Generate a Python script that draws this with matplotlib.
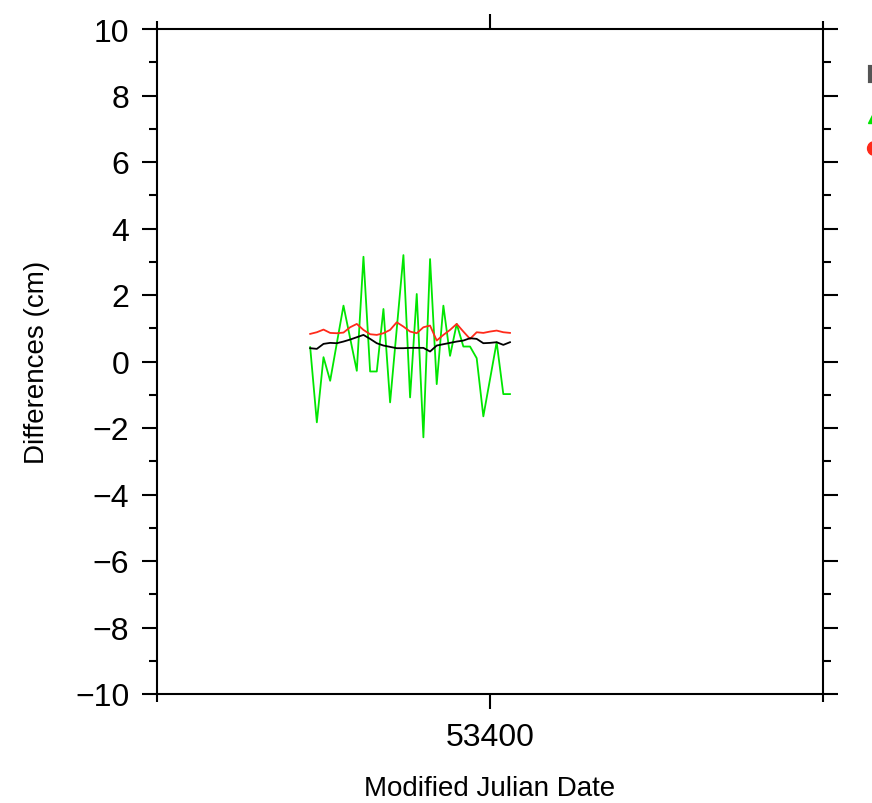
import matplotlib.pyplot as plt
from matplotlib.ticker import FixedLocator, MultipleLocator
from matplotlib.lines import Line2D

plt.rcParams['font.family'] = ['Liberation Sans', 'DejaVu Sans']

# daily differences around MJD 53400
green_mjd = [53373, 53374, 53375, 53376, 53378, 53380, 53381, 53382, 53383,
             53384, 53385, 53387, 53388, 53389, 53390, 53391, 53392, 53393,
             53394, 53395, 53396, 53397, 53398, 53399, 53401, 53402, 53403]
green_diff = [0.43, -1.83, 0.13, -0.58, 1.68, -0.28, 3.15, -0.30, -0.30,
              1.58, -1.23, 3.20, -1.08, 2.03, -2.28, 3.08, -0.68, 1.68,
              0.17, 1.13, 0.45, 0.45, 0.10, -1.65, 0.58, -0.98, -0.98]

red_mjd = list(range(53373, 53404))
red_diff = [0.83, 0.88, 0.96, 0.86, 0.85, 0.87, 1.03, 1.13, 0.95, 0.82,
            0.80, 0.85, 0.95, 1.18, 1.05, 0.90, 0.85, 1.03, 1.08, 0.63,
            0.80, 0.95, 1.13, 0.90, 0.68, 0.88, 0.86, 0.90, 0.93, 0.88,
            0.86]

black_mjd = red_mjd
black_diff = [0.40, 0.38, 0.53, 0.56, 0.55, 0.60, 0.66, 0.73, 0.80, 0.68,
              0.55, 0.48, 0.44, 0.40, 0.40, 0.41, 0.41, 0.41, 0.30, 0.48,
              0.52, 0.56, 0.60, 0.63, 0.70, 0.68, 0.55, 0.56, 0.58, 0.50,
              0.58]

fig = plt.figure(figsize=(8.72, 8.04), dpi=100)
ax = fig.add_axes([157 / 872, 109 / 804, 666 / 872, 665 / 804])

ax.plot(green_mjd, green_diff, color='#00e600', lw=1.3)
ax.plot(red_mjd, red_diff, color='#ff2a1a', lw=1.3)
ax.plot(black_mjd, black_diff, color='black', lw=1.3)

ax.set_xlim(53350, 53450)
ax.set_ylim(-10, 10)
ax.xaxis.set_major_locator(FixedLocator([53400]))
ax.xaxis.set_minor_locator(FixedLocator([53350, 53450]))
ax.yaxis.set_major_locator(MultipleLocator(2))
ax.yaxis.set_minor_locator(MultipleLocator(1))
ax.xaxis.set_major_formatter(lambda v, p: '%d' % v)
ax.yaxis.set_major_formatter(lambda v, p: ('%d' % v).replace('-', '\u2212'))

ax.tick_params(which='both', direction='out', top=True, right=True,
               width=1.5, labelsize=23, pad=9, colors='black')
ax.tick_params(which='major', length=11)
ax.tick_params(which='minor', length=5.5)
for s in ax.spines.values():
    s.set_linewidth(1.5)

ax.set_xlabel('Modified Julian Date', fontsize=20, labelpad=17)
ax.set_ylabel('Differences (cm)', fontsize=20, labelpad=18)

# legend symbols sitting at the right edge
fig.add_artist(Line2D([869.5 / 872, 869.5 / 872], [1 - 68 / 804, 1 - 82 / 804],
                      transform=fig.transFigure, color='#555555', lw=3))
fig.add_artist(Line2D([874 / 872], [1 - 118 / 804], transform=fig.transFigure,
                      marker='^', markersize=9, color='#00e600', ls='none'))
fig.add_artist(Line2D([874 / 872], [1 - 149 / 804], transform=fig.transFigure,
                      marker='o', markersize=10, color='#ff2a1a', ls='none'))

fig.savefig('out.png', dpi=100)
